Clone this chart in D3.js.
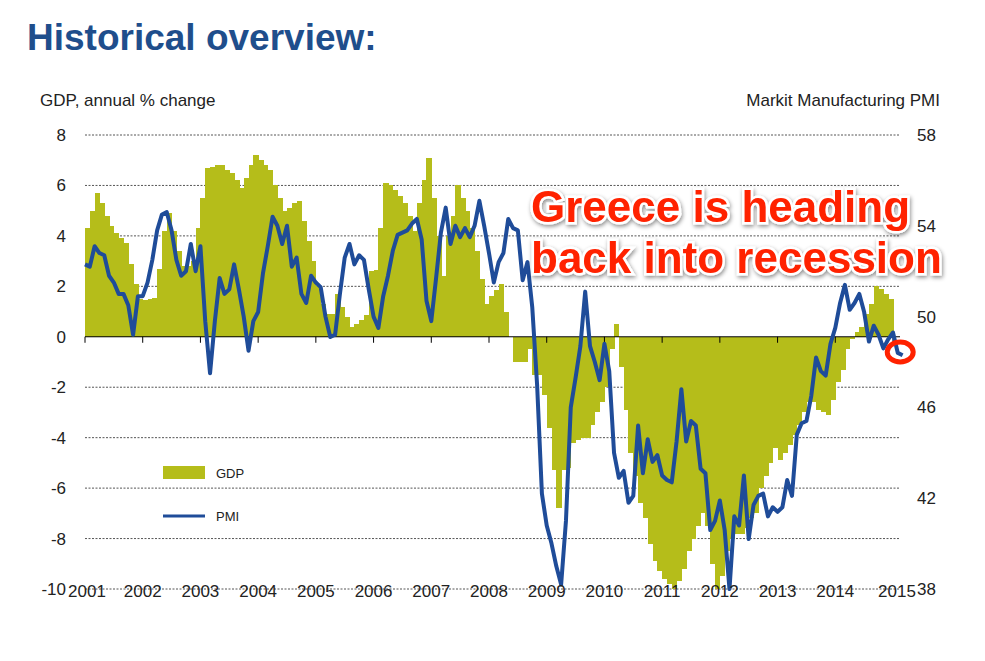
<!DOCTYPE html>
<html>
<head>
<meta charset="utf-8">
<script src="https://cdn.jsdelivr.net/npm/d3@7"></script>
<style>
  body { margin: 0; background: #fff; }
  svg { font-family: "Liberation Sans", Arial, sans-serif; }
</style>
</head>
<body>
<svg width="985" height="661"></svg>
<script>
// GDP, annual % change, monthly steps, Jan 2001 .. Dec 2014
const gdp = [
  4.3,5.0,5.7,5.3,4.8,4.4,4.1,3.9,3.7,2.9,2.1,1.5,
  1.45,1.5,1.55,2.7,4.2,4.9,4.2,3.4,2.8,2.8,3.0,4.3,
  5.5,6.7,6.75,6.8,6.8,6.6,6.5,6.2,5.9,6.3,6.8,7.2,
  7.0,6.8,6.6,6.0,5.5,5.0,5.1,5.3,5.4,4.6,3.8,3.0,
  2.0,1.3,0.9,0.9,1.7,1.2,0.8,0.4,0.5,0.65,0.85,2.6,
  2.65,4.3,6.1,6.0,5.8,5.6,5.3,4.8,4.2,5.3,6.2,7.1,
  5.5,4.0,2.4,4.0,4.8,6.0,5.5,5.0,4.3,3.4,2.3,1.3,
  1.6,1.85,2.1,1.0,0,-1.0,-1.0,-1.0,-0.5,-1.5,-1.5,-2.3,
  -3.6,-5.3,-6.8,-5.3,-5.2,-4.2,-4.1,-4.0,-4.0,-3.5,-3.0,-2.6,
  -2.0,-0.5,0.5,-1.2,-2.9,-4.6,-5.5,-6.6,-7.2,-8.2,-8.9,-9.3,
  -9.6,-9.8,-10,-9.7,-9.2,-8.5,-8.0,-7.5,-7.0,-7.5,-9.0,-10,
  -9.5,-8.5,-8.0,-7.8,-7.8,-7.6,-7.2,-7.0,-6.0,-5.5,-5.0,-4.4,
  -4.9,-4.6,-4.3,-3.9,-3.5,-3.0,-2.6,-2.6,-2.9,-3.0,-3.1,-2.5,
  -1.8,-1.3,-0.5,-0.1,0.2,0.4,0.9,1.3,2.0,1.9,1.7,1.5
];
// Markit Manufacturing PMI, monthly, Jan 2001 .. Mar 2015
const pmi = [
  52.3,52.2,53.1,52.8,52.7,51.8,51.5,51.0,51.0,50.5,49.2,50.9,
  50.9,51.5,52.5,53.8,54.5,54.6,53.8,52.5,51.8,52.0,53.2,52.0,
  53.1,49.8,47.5,49.8,51.7,51.0,51.2,52.3,51.2,50.0,48.5,49.8,
  50.2,51.9,53.1,54.4,54.0,53.2,54.0,52.2,52.6,51.0,50.6,51.8,
  51.5,51.3,50.0,49.1,49.2,51.0,52.6,53.2,52.3,52.7,52.5,51.2,
  50.0,49.5,50.9,51.8,52.9,53.6,53.7,53.8,54.1,54.3,53.4,50.7,
  49.8,51.7,53.7,54.8,53.2,54.0,53.5,53.9,53.5,54.0,55.1,54.0,
  52.8,51.5,52.4,52.8,54.3,53.9,53.8,51.6,52.4,50.4,47.0,42.2,
  40.8,40.0,39.0,38.2,41.0,46.0,47.3,48.7,51.1,48.7,48.0,47.2,
  48.8,47.6,44.0,42.9,43.2,41.8,42.1,45.2,43.1,44.6,43.6,43.9,
  43.0,42.8,42.7,44.5,46.8,44.5,45.4,45.2,43.3,43.1,40.6,41.0,
  41.9,40.6,38.0,41.2,40.8,43.0,40.2,41.7,42.1,42.2,41.2,41.6,
  41.4,41.6,42.8,42.1,44.8,45.3,45.4,46.5,48.2,47.6,47.4,48.8,
  49.5,50.6,51.4,50.3,50.6,51.0,50.2,48.9,49.6,49.2,48.6,49.0,
  49.3,48.4,48.3
];
const years = d3.range(2001, 2016);
const leftTicks = d3.range(-10, 9, 2);
const rightTicks = [38, 42, 46, 50, 54, 58];

const svg = d3.select("svg");
const green = "#b5bd1a", blue = "#1f4c99";

const x = d3.scaleLinear().domain([0, 168]).range([85, 893]);
const yL = d3.scaleLinear().domain([-10, 8]).range([589, 135]);
const yR = d3.scaleLinear().domain([38, 58]).range([589, 135]);

svg.append("text").text("Historical overview:").attr("x", 27).attr("y", 50)
  .attr("font-size", 37).attr("font-weight", "bold").attr("fill", "#1f4e8c");
svg.append("text").text("GDP, annual % change").attr("x", 40).attr("y", 106).attr("font-size", 17).attr("fill", "#222");
svg.append("text").text("Markit Manufacturing PMI").attr("x", 940).attr("y", 106).attr("font-size", 17)
  .attr("text-anchor", "end").attr("fill", "#222");

// gridlines
svg.append("g").selectAll("line").data(leftTicks.filter(d => d !== 0)).enter().append("line")
  .attr("x1", 85).attr("x2", 900).attr("y1", d => yL(d)).attr("y2", d => yL(d))
  .attr("stroke", "#555").attr("stroke-width", 1).attr("stroke-dasharray", "2,1.5");

// GDP bars
svg.append("g").attr("shape-rendering", "crispEdges").selectAll("rect").data(gdp).enter().append("rect")
  .attr("x", (d, i) => x(i)).attr("width", (d, i) => x(i + 1) - x(i) + 0.6)
  .attr("y", d => yL(Math.max(0, d))).attr("height", d => Math.abs(yL(d) - yL(0)))
  .attr("fill", green);

// zero line with year ticks
svg.append("line").attr("x1", 85).attr("x2", 900).attr("y1", yL(0)).attr("y2", yL(0)).attr("stroke", "#000");
svg.append("g").selectAll("line").data(years).enter().append("line")
  .attr("x1", d => x((d - 2001) * 12)).attr("x2", d => x((d - 2001) * 12))
  .attr("y1", yL(0)).attr("y2", yL(0) + 6).attr("stroke", "#000");

// PMI line
svg.append("path").datum(pmi)
  .attr("d", d3.line().x((d, i) => x(i)).y(d => yR(d)))
  .attr("fill", "none").attr("stroke", blue).attr("stroke-width", 4).attr("stroke-linejoin", "round");

// axis labels
svg.append("g").selectAll("text").data(leftTicks).enter().append("text")
  .text(d => d).attr("x", 66).attr("y", d => yL(d) + 6).attr("text-anchor", "end")
  .attr("font-size", 17).attr("fill", "#222");
svg.append("g").selectAll("text").data(rightTicks).enter().append("text")
  .text(d => d).attr("x", 917).attr("y", d => yR(d) + 6)
  .attr("font-size", 17).attr("fill", "#222");
svg.append("g").selectAll("text").data(years).enter().append("text")
  .text(d => d).attr("x", d => x((d - 2001) * 12) + (d === 2015 ? 4 : d === 2001 ? 2 : 0)).attr("y", 597).attr("text-anchor", "middle")
  .attr("font-size", 17).attr("fill", "#222");

// legend
svg.append("rect").attr("x", 163).attr("y", 466).attr("width", 42).attr("height", 13).attr("fill", green);
svg.append("text").text("GDP").attr("x", 216).attr("y", 478).attr("font-size", 13).attr("fill", "#222");
svg.append("line").attr("x1", 163).attr("x2", 205).attr("y1", 516).attr("y2", 516).attr("stroke", blue).attr("stroke-width", 3);
svg.append("text").text("PMI").attr("x", 216).attr("y", 521).attr("font-size", 13).attr("fill", "#222");

// annotation
const defs = svg.append("defs");
const f = defs.append("filter").attr("id", "sh").attr("x", "-10%").attr("y", "-30%").attr("width", "120%").attr("height", "160%");
f.append("feDropShadow").attr("dx", 1).attr("dy", 2).attr("stdDeviation", 2).attr("flood-color", "#000").attr("flood-opacity", 0.45);
const ann = svg.append("g").attr("filter", "url(#sh)");
[["Greece is heading", 222], ["back into recession", 273]].forEach(([t, yy]) => {
  ann.append("text").text(t).attr("x", 531).attr("y", yy)
    .attr("font-size", 44).attr("font-weight", "bold").attr("fill", "#ff2200")
    .attr("stroke", "#fff").attr("stroke-width", 5).attr("paint-order", "stroke");
});
svg.append("ellipse").attr("cx", x(169.5)).attr("cy", 352).attr("rx", 13).attr("ry", 10)
  .attr("fill", "none").attr("stroke", "#ff2200").attr("stroke-width", 5);
</script>
</body>
</html>
